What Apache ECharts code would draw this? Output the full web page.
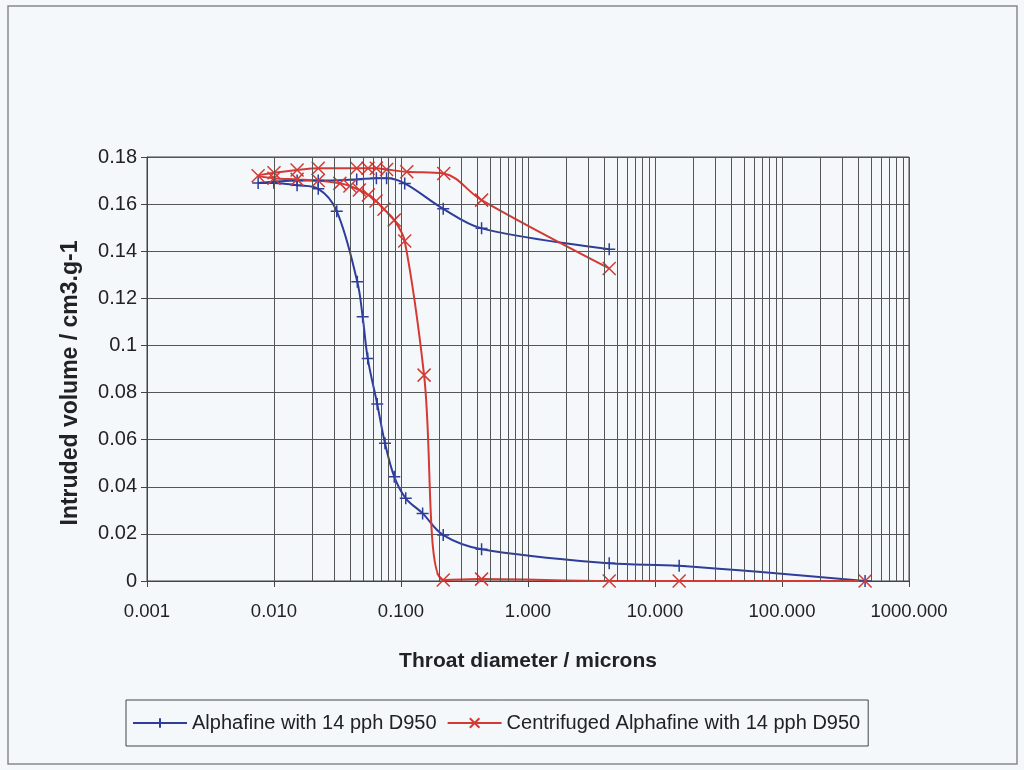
<!DOCTYPE html>
<html>
<head>
<meta charset="utf-8">
<script src="https://cdn.jsdelivr.net/npm/echarts@6/dist/echarts.min.js"></script>
<style>
html,body{margin:0;padding:0;background:#f4f8fb;}
#c{width:1024px;height:770px;}
</style>
</head>
<body>
<div id="c"></div>
<script>
// Series 1: Alphafine with 14 pph D950 (intrusion then extrusion)
var blueX = [451, 15.5, 4.36, 0.431, 0.215, 0.148, 0.109, 0.0885, 0.0748, 0.065, 0.0547, 0.0499, 0.0453, 0.0312, 0.0223, 0.0152, 0.0100, 0.0075, 0.0100, 0.0152, 0.0223, 0.0448, 0.064, 0.077, 0.107, 0.215, 0.431, 4.36];
var blueY = [0, 0.0065, 0.0075, 0.0135, 0.0195, 0.0287, 0.0351, 0.0443, 0.0585, 0.0751, 0.0945, 0.1122, 0.127, 0.157, 0.1665, 0.168, 0.169, 0.169, 0.1695, 0.170, 0.170, 0.1705, 0.171, 0.171, 0.1688, 0.158, 0.1497, 0.1408];
// Series 2: Centrifuged Alphafine with 14 pph D950
var redX = [451, 15.5, 4.36, 0.431, 0.215, 0.152, 0.107, 0.0885, 0.0734, 0.0636, 0.0553, 0.047, 0.0396, 0.033, 0.0223, 0.0152, 0.0100, 0.0075, 0.0100, 0.0152, 0.0223, 0.0448, 0.055, 0.064, 0.077, 0.111, 0.217, 0.431, 4.36];
var redY = [0, 0, 0, 0.0008, 0.0004, 0.0874, 0.1443, 0.1532, 0.1578, 0.1613, 0.1639, 0.166, 0.1677, 0.1688, 0.170, 0.1705, 0.171, 0.172, 0.1733, 0.1745, 0.1752, 0.1752, 0.1752, 0.1752, 0.1747, 0.1737, 0.173, 0.1617, 0.1327];
var seriesNames = ['Alphafine with 14 pph D950', 'Centrifuged Alphafine with 14 pph D950'];
var xTickLabels = ['0.001', '0.010', '0.100', '1.000', '10.000', '100.000', '1000.000'];
var decades = [0.001, 0.01, 0.1, 1, 10, 100];

function pairs(xs, ys) { return xs.map(function (x, i) { return [x, ys[i]]; }); }
var minors = [];
decades.forEach(function (d) { for (var k = 2; k <= 9; k++) minors.push({ xAxis: +(k * d).toPrecision(3) }); });

var PLUS = 'path://M0,6 L12,6 M6,0 L6,12';
var CROSS = 'path://M0,0 L12,12 M12,0 L0,12';
var blue = '#2e3d9a', red = '#d43a34';
var font = 'Liberation Sans, Arial, sans-serif';

var chart = echarts.init(document.getElementById('c'), null, { renderer: 'canvas' });
chart.setOption({
  backgroundColor: '#f4f8fb',
  animation: false,
  graphic: [{ type: 'rect', shape: { x: 8, y: 6, width: 1009, height: 758 }, style: { fill: 'none', stroke: '#888', lineWidth: 1.5 }, silent: true }],
  grid: { left: 147, right: 115, top: 157, bottom: 189, show: true, borderColor: '#444', borderWidth: 1, backgroundColor: 'transparent' },
  xAxis: {
    type: 'log', logBase: 10, min: 0.001, max: 1000,
    name: 'Throat diameter / microns', nameLocation: 'middle', nameGap: 70,
    nameTextStyle: { fontFamily: font, fontSize: 21, fontWeight: 'bold', color: '#222' },
    axisLine: { show: true, lineStyle: { color: '#444' } },
    axisTick: { show: true, length: 6, lineStyle: { color: '#444' } },
    axisLabel: { fontFamily: font, fontSize: 18.5, color: '#222', margin: 21,
      formatter: function (v) { var i = Math.round(Math.log10(v)) + 3; return xTickLabels[i] !== undefined ? xTickLabels[i] : ''; } },
    splitLine: { show: true, lineStyle: { color: '#555', width: 1 } }
  },
  yAxis: {
    type: 'value', min: 0, max: 0.18, interval: 0.02,
    name: 'Intruded volume / cm3.g-1', nameLocation: 'middle', nameGap: 65,
    nameTextStyle: { fontFamily: font, fontSize: 23, fontWeight: 'bold', color: '#222', padding: [0, 28, 0, 0] },
    axisLine: { show: true, lineStyle: { color: '#444' } },
    axisTick: { show: true, length: 6, lineStyle: { color: '#444' } },
    axisLabel: { fontFamily: font, fontSize: 20, color: '#222', margin: 10,
      formatter: function (v) { return String(+v.toFixed(2)); } },
    splitLine: { show: true, lineStyle: { color: '#555', width: 1 } }
  },
  legend: {
    data: seriesNames, left: 126, top: 700, orient: 'horizontal',
    padding: [13, 8, 13, 6], itemGap: 10, itemWidth: 54, itemHeight: 12,
    borderColor: '#444', borderWidth: 1, backgroundColor: '#f4f8fb',
    textStyle: { fontFamily: font, fontSize: 20, color: '#222' }
  },
  series: [
    { type: 'line', name: '_grid', data: [], z: 1, silent: true,
      markLine: { silent: true, symbol: 'none', label: { show: false }, animation: false,
        lineStyle: { color: '#555', width: 1, type: 'solid' }, emphasis: { disabled: true }, data: minors } },
    { type: 'line', name: seriesNames[0], data: pairs(blueX, blueY), z: 3, smooth: 0.35, clip: false,
      symbol: PLUS, symbolSize: 12, showAllSymbol: true,
      lineStyle: { color: blue, width: 2 }, itemStyle: { color: 'none', borderColor: blue, borderWidth: 1.5 } },
    { type: 'line', name: seriesNames[1], data: pairs(redX, redY), z: 3, smooth: 0.35, clip: false,
      symbol: CROSS, symbolSize: 13, showAllSymbol: true,
      lineStyle: { color: red, width: 2 }, itemStyle: { color: 'none', borderColor: red, borderWidth: 1.5 } }
  ]
});
</script>
</body>
</html>
